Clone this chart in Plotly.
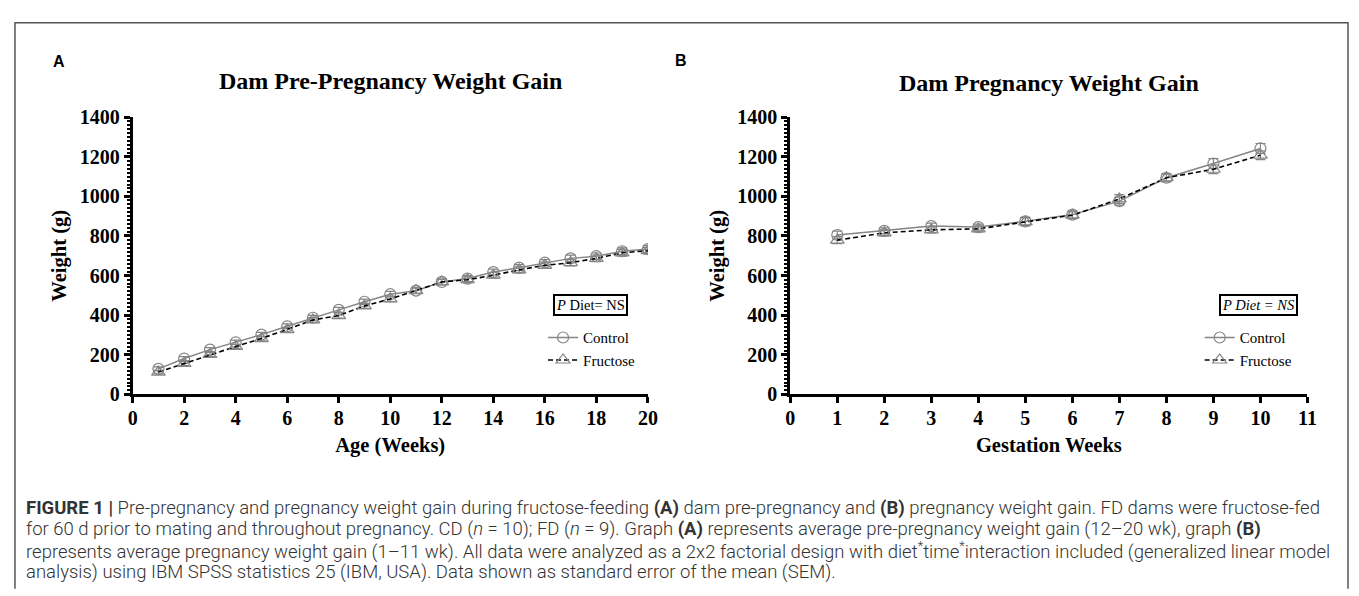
import plotly.graph_objects as go

# panel A: pre-pregnancy weight (g) by age in weeks
age_weeks = list(range(1, 21))
ctrl_pre = [129, 181, 226, 263, 302, 344, 387, 427, 468, 506,
            524, 568, 585, 618, 640, 665, 687, 698, 723, 734]
ctrl_pre_sem = [10, 10, 10, 11, 11, 12, 12, 13, 13, 14,
                14, 14, 15, 15, 15, 16, 16, 16, 17, 17]
fruc_pre = [113, 156, 202, 242, 282, 327, 376, 398, 447, 482,
            524, 568, 579, 602, 629, 652, 665, 687, 715, 726]
fruc_pre_sem = [9, 10, 10, 11, 11, 12, 12, 13, 13, 14,
                14, 14, 15, 15, 15, 16, 16, 16, 17, 17]

# panel B: pregnancy weight (g) by gestation week
gest_weeks = list(range(1, 11))
ctrl_preg = [805, 826, 850, 845, 874, 908, 976, 1094, 1166, 1242]
ctrl_preg_sem = [20, 15, 15, 15, 20, 18, 20, 20, 25, 25]
fruc_preg = [779, 816, 831, 836, 871, 905, 987, 1094, 1137, 1208]
fruc_preg_sem = [18, 15, 15, 15, 20, 18, 22, 20, 22, 22]

# the page body has an 8px margin, so the figure is drawn 8px smaller
OFF = 8
W, H = 1359 - OFF, 596 - OFF
GRAY = "#858585"
SERIF = "Liberation Serif"
SANS = "Liberation Sans"


def px(x):
    return (x - OFF) / W


def py(y):
    return 1 - (y - OFF) / H


fig = go.Figure()


def add_pair(x, c, c_err, f, f_err, xa, ya, legend):
    fig.add_trace(go.Scatter(
        x=x, y=c, name="Control", xaxis=xa, yaxis=ya, legend=legend,
        mode="lines+markers",
        line=dict(color=GRAY, width=1.5),
        marker=dict(symbol="circle-open", size=11, color=GRAY, line=dict(width=1.2)),
        error_y=dict(type="data", array=c_err, color=GRAY, thickness=1.2, width=5),
    ))
    fig.add_trace(go.Scatter(
        x=x, y=f, name="Fructose", xaxis=xa, yaxis=ya, legend=legend,
        mode="lines+markers",
        line=dict(color="black", width=1.6, dash="5px,3px"),
        marker=dict(symbol="triangle-up-open", size=12, color=GRAY, line=dict(width=1.2)),
        error_y=dict(type="data", array=f_err, color=GRAY, thickness=1.2, width=5),
    ))


add_pair(age_weeks, ctrl_pre, ctrl_pre_sem, fruc_pre, fruc_pre_sem, "x", "y", "legend")
add_pair(gest_weeks, ctrl_preg, ctrl_preg_sem, fruc_preg, fruc_preg_sem, "x2", "y2", "legend2")

tickfont = dict(family=SERIF, size=20, color="black", weight="bold")
titlefont = dict(family=SERIF, size=20.5, color="black", weight="bold")

common = dict(showline=True, linecolor="black", linewidth=3, ticks="outside",
              ticklen=6, tickwidth=2.5, tickcolor="black", showgrid=False,
              zeroline=False, tickfont=tickfont, title_font=titlefont)
common_x = dict(common, title_standoff=10, ticklabelstandoff=-2)
common_y = dict(common, range=[0, 1400], dtick=200, title_standoff=8,
                minor=dict(dtick=20, ticks="outside", ticklen=3, tickwidth=2,
                           tickcolor="black", showgrid=False))

y_dom = [py(398), py(110)]
legend_font = dict(family=SERIF, size=15, color="black")

fig.update_layout(
    width=W, height=H,
    margin=dict(l=0, r=0, t=0, b=0),
    paper_bgcolor="white", plot_bgcolor="white",
    showlegend=True,
    xaxis=dict(common_x, domain=[px(129), px(650)], range=[0, 20], dtick=2,
               anchor="y", title_text="Age (Weeks)"),
    yaxis=dict(common_y, domain=y_dom, anchor="x", title_text="Weight (g)"),
    xaxis2=dict(common_x, domain=[px(794), px(1317)], range=[0, 11], dtick=1,
                anchor="y2", title_text="Gestation Weeks"),
    yaxis2=dict(common_y, domain=y_dom, anchor="x2", title_text="Weight (g)"),
    legend=dict(x=px(544), y=py(322), xanchor="left", yanchor="top",
                font=legend_font, itemwidth=30, tracegroupgap=0,
                bgcolor="rgba(0,0,0,0)"),
    legend2=dict(x=px(1208), y=py(322), xanchor="left", yanchor="top",
                 font=legend_font, itemwidth=30, tracegroupgap=0,
                 bgcolor="rgba(0,0,0,0)"),
)

# frame round the whole figure (open at the bottom)
fig.add_shape(type="path", xref="paper", yref="paper",
              path=f"M {px(10)} {py(600)} L {px(10)} {py(12)} L {px(1358)} {py(12)} L {px(1358)} {py(600)}",
              line=dict(color="#555555", width=1.5))

ann = []
ann.append(dict(x=px(55), y=py(52), text="<b>A</b>", font=dict(family=SANS, size=16)))
ann.append(dict(x=px(684), y=py(51), text="<b>B</b>", font=dict(family=SANS, size=16)))
ann.append(dict(x=px(390), y=py(72), text="<b>Dam Pre-Pregnancy Weight Gain</b>",
                font=dict(family=SERIF, size=24)))
ann.append(dict(x=px(1056), y=py(74), text="<b>Dam Pregnancy Weight Gain</b>",
                font=dict(family=SERIF, size=24)))
ann.append(dict(x=px(592), y=py(305), text="<i>P</i> Diet= NS",
                font=dict(family=SERIF, size=14.5), bordercolor="black",
                borderwidth=2, borderpad=1))
ann.append(dict(x=px(1267), y=py(305), text="<i>P Diet = NS</i>",
                font=dict(family=SERIF, size=14.5), bordercolor="black",
                borderwidth=2, borderpad=1))

caption = [
    "<b>FIGURE 1 |</b> Pre-pregnancy and pregnancy weight gain during fructose-feeding <b>(A)</b> dam pre-pregnancy and <b>(B)</b> pregnancy weight gain. FD dams were fructose-fed",
    "for 60 d prior to mating and throughout pregnancy. CD (<i>n</i> = 10); FD (<i>n</i> = 9). Graph <b>(A)</b> represents average pre-pregnancy weight gain (12–20 wk), graph <b>(B)</b>",
    "represents average pregnancy weight gain (1–11 wk). All data were analyzed as a 2x2 factorial design with diet<sup>*</sup>time<sup>*</sup>interaction included (generalized linear model",
    "analysis) using IBM SPSS statistics 25 (IBM, USA). Data shown as standard error of the mean (SEM).",
]
cap_y = [516, 538, 560, 582]
for line, yy in zip(caption, cap_y):
    ann.append(dict(x=px(19), y=py(yy), text=line, xanchor="left",
                    font=dict(family="Roboto", size=18.5, color="#333333", weight=300)))

for a in ann:
    a.setdefault("xanchor", "center")
    a.update(xref="paper", yref="paper", yanchor="middle", showarrow=False)
    a["font"].setdefault("color", "black")
fig.update_layout(annotations=ann)

fig.write_html("out.html")
